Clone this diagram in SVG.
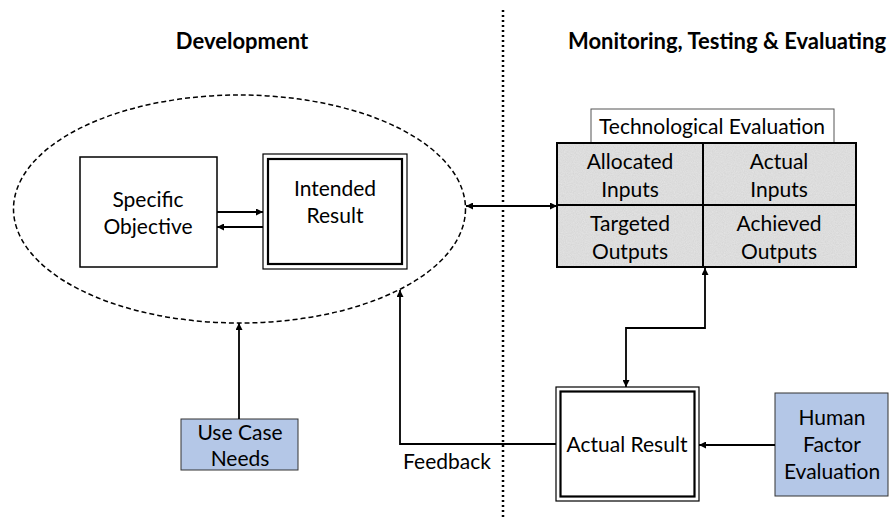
<svg xmlns="http://www.w3.org/2000/svg" width="892" height="520" viewBox="0 0 892 520">
<defs>
<marker id="ah" viewBox="0 0 10 10" refX="10" refY="5" markerWidth="7" markerHeight="7" markerUnits="userSpaceOnUse" orient="auto-start-reverse"><path d="M0,0 L10,5 L0,10 z" fill="#000"/></marker>
<filter id="grain" x="0" y="0" width="100%" height="100%"><feTurbulence type="fractalNoise" baseFrequency="0.9" numOctaves="2" seed="3" result="n"/><feColorMatrix in="n" type="matrix" values="0 0 0 0 0.5  0 0 0 0 0.5  0 0 0 0 0.5  0 0 0 0.5 -0.1" result="g"/><feComposite in="g" in2="SourceGraphic" operator="in" result="gg"/><feMerge><feMergeNode in="SourceGraphic"/><feMergeNode in="gg"/></feMerge></filter>
</defs>
<style>
text{font-family:Lato,"Liberation Sans",sans-serif;font-size:21px;fill:#000;text-anchor:middle}
.title{font-weight:bold;font-size:22px}
.box{fill:#fff;stroke:#000;stroke-width:1.5}
.blue{fill:#b4c7e7;stroke:#333;stroke-width:1}
.ln{fill:none;stroke:#000;stroke-width:1.8}
</style>
<rect width="892" height="520" fill="#fff"/>
<line x1="503" y1="10" x2="503" y2="520" stroke="#000" stroke-width="2.5" stroke-dasharray="2,3"/>
<text class="title" x="242" y="49">Development</text>
<text class="title" x="727" y="49">Monitoring, Testing &amp; Evaluating</text>

<g id="development">
<ellipse cx="239.5" cy="209" rx="226" ry="114" fill="none" stroke="#000" stroke-width="1.5" stroke-dasharray="5,3"/>
</g>
<g id="specific-objective">
<rect class="box" x="80" y="157" width="137" height="110"/>
<text x="148" y="207">Specific</text>
<text x="148" y="234">Objective</text>
</g>
<g id="intended-result">
<rect x="263" y="154" width="144" height="115" fill="#fff" stroke="#000" stroke-width="1.2"/>
<rect x="268" y="159" width="134" height="105" fill="none" stroke="#000" stroke-width="2.2"/>
<text x="335" y="196">Intended</text>
<text x="335" y="223">Result</text>
</g>
<g id="technological-evaluation">
<rect x="591" y="109" width="243" height="34" fill="#fff" stroke="#555" stroke-width="1"/>
<text x="712" y="134">Technological Evaluation</text>
<rect x="557" y="143" width="299" height="124" fill="#e2e2e2" filter="url(#grain)"/>
<rect x="557" y="143" width="299" height="124" fill="none" stroke="#000" stroke-width="2"/>
<line x1="557" y1="205" x2="856" y2="205" stroke="#000" stroke-width="2"/>
<line x1="703" y1="143" x2="703" y2="267" stroke="#000" stroke-width="2"/>
<text x="630" y="169">Allocated</text>
<text x="630" y="197">Inputs</text>
<text x="779" y="169">Actual</text>
<text x="779" y="197">Inputs</text>
<text x="630" y="231">Targeted</text>
<text x="630" y="259">Outputs</text>
<text x="779" y="231">Achieved</text>
<text x="779" y="259">Outputs</text>
</g>
<g id="actual-result">
<rect x="556" y="387" width="143" height="114" fill="#fff" stroke="#000" stroke-width="1.2"/>
<rect x="560.5" y="391.5" width="134" height="105" fill="none" stroke="#000" stroke-width="2.2"/>
<text x="627" y="452">Actual Result</text>
</g>
<g id="human-factor-evaluation">
<rect class="blue" x="775" y="393" width="113" height="103"/>
<text x="832" y="425">Human</text>
<text x="832" y="452">Factor</text>
<text x="832" y="479">Evaluation</text>
</g>
<g id="use-case-needs">
<rect class="blue" x="181" y="419" width="117" height="51"/>
<text x="240" y="440">Use Case</text>
<text x="240" y="466">Needs</text>
</g>

<g id="connectors">
<line class="ln" x1="217" y1="212" x2="263" y2="212" marker-end="url(#ah)"/>
<line class="ln" x1="263" y1="227" x2="217" y2="227" marker-end="url(#ah)"/>
<line class="ln" x1="466" y1="206" x2="557" y2="206" marker-start="url(#ah)" marker-end="url(#ah)"/>
<path class="ln" d="M705,268 V328 H626 V387" marker-start="url(#ah)" marker-end="url(#ah)"/>
<line class="ln" x1="775" y1="445" x2="699" y2="445" marker-end="url(#ah)"/>
<path class="ln" d="M556,444 H400 V290" marker-end="url(#ah)"/>
<line class="ln" x1="239" y1="419" x2="239" y2="323" marker-end="url(#ah)"/>
<text x="447" y="469">Feedback</text>
</g>
</svg>
